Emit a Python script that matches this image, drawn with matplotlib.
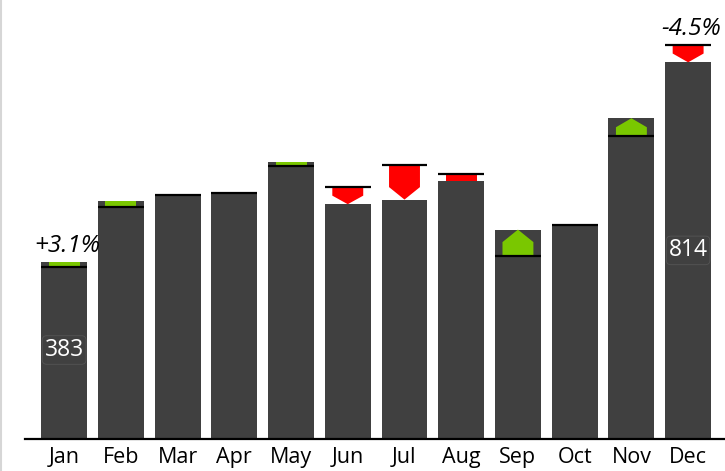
from matplotlib import pyplot as plt
from matplotlib.patches import Polygon
from matplotlib.lines import Line2D

months = ["Jan", "Feb", "Mar", "Apr", "May", "Jun",
          "Jul", "Aug", "Sep", "Oct", "Nov", "Dec"]
actual = [383, 513, 527, 529, 599, 507, 517, 557, 452, 462, 693, 814]
plan = [371.5, 500, 527, 531, 590, 544, 591, 573, 395, 462, 654, 852]
pct_months = ["Jan", "Dec"]
value_months = ["Jan", "Dec"]

bar_color = "#404040"
green = "#7ac700"
red = "#ff0000"
fam = ["Open Sans", "DejaVu Sans"]

fig = plt.figure(figsize=(7.25, 4.71), dpi=100)
ax = fig.add_axes([25 / 725, 1 - 438.5 / 471, 1 - 25 / 725, 438.5 / 471])

x = list(range(len(months)))
bw = 0.81
aw = 0.545
ax.bar(x, actual, width=bw, color=bar_color, zorder=1)

# arrows: from plan to actual
for i in x:
    d = actual[i] - plan[i]
    if abs(d) < 1:
        continue
    sgn = 1 if d > 0 else -1
    tri = min(abs(d) / 2, 27) if abs(d) > 30 else 0
    p0 = plan[i]
    sh = actual[i] - sgn * tri
    pts = [(i - aw / 2, p0), (i + aw / 2, p0), (i + aw / 2, sh),
           (i, actual[i]), (i - aw / 2, sh)]
    ax.add_patch(Polygon(pts, closed=True, color=green if d > 0 else red,
                         lw=0, zorder=2))

# plan lines
for i in x:
    ax.plot([i - bw / 2, i + bw / 2], [plan[i], plan[i]], color="black",
            lw=1.6, solid_capstyle="butt", zorder=3)

# percent labels
for m in pct_months:
    i = months.index(m)
    p = (actual[i] / plan[i] - 1) * 100
    ax.text(i + 0.05, max(actual[i], plan[i]) + 8, "%+.1f%%" % p,
            ha="center", va="bottom", fontsize=17.5, style="italic",
            family=fam, color="black", zorder=4)

# value labels
for m in value_months:
    i = months.index(m)
    ax.text(i, actual[i] / 2, str(actual[i]), ha="center", va="center",
            fontsize=16.5, color="white", family=fam, zorder=4,
            bbox=dict(boxstyle="round,pad=0.1,rounding_size=0.2",
                      fc=bar_color, ec="#555555", lw=0.6))

ax.set_xlim(-0.69, 11.65)
ax.set_ylim(0, 438.5 * 383 / 177)
ax.set_xticks(x)
ax.set_xticklabels(months, fontsize=15.5, family=fam)
ax.set_yticks([])
ax.tick_params(axis="x", length=0, pad=6)
for s in ["top", "right", "left"]:
    ax.spines[s].set_visible(False)
ax.spines["bottom"].set_linewidth(1.6)
ax.spines["bottom"].set_color("black")

fig.add_artist(Line2D([0.0015, 0.0015], [0, 1], color="#d6d6d6", lw=1.5,
                      transform=fig.transFigure))

plt.savefig("out.png", dpi=100)
